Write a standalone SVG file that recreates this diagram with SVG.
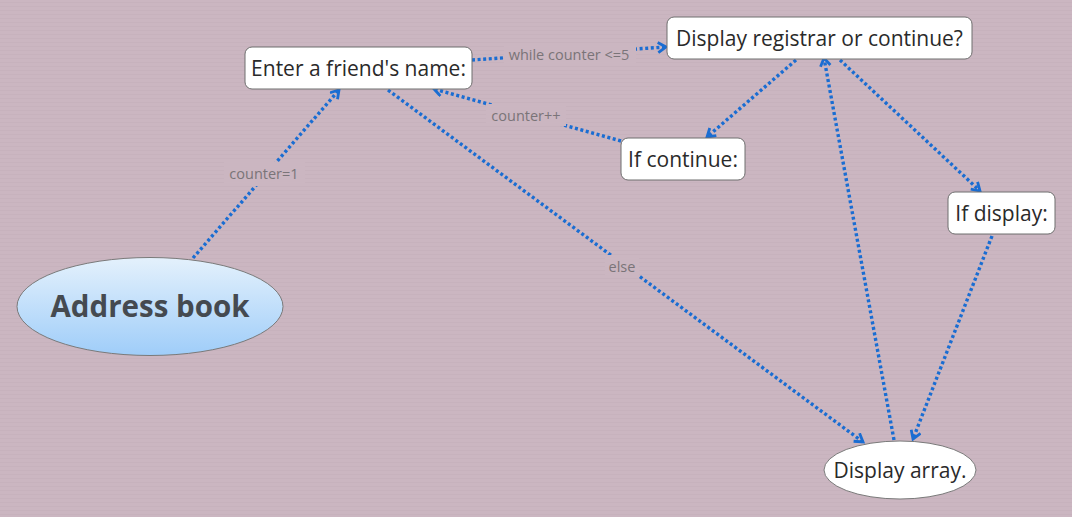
<svg xmlns="http://www.w3.org/2000/svg" width="1072" height="517" viewBox="0 0 1072 517">
<defs>
<linearGradient id="gAB" x1="0" y1="0" x2="0" y2="1">
<stop offset="0" stop-color="#e4f1fc"/>
<stop offset="1" stop-color="#9fcdf9"/>
</linearGradient>
<pattern id="stripes" width="4" height="4" patternUnits="userSpaceOnUse">
<rect width="4" height="4" fill="#cbb6c1"/>
<rect y="2" width="4" height="1" fill="#c7b2bd"/>
</pattern>
<marker id="arr" markerUnits="userSpaceOnUse" markerWidth="16" markerHeight="16" refX="11" refY="6" orient="auto">
<path d="M3,1 L11,6 L3,11" fill="none" stroke="#1a6dd2" stroke-width="2.8" stroke-linejoin="miter"/>
</marker>
</defs>
<style>
.node rect{fill:#ffffff;stroke:#6e6e6e;stroke-width:1}
.node ellipse{stroke:#7a7a7a;stroke-width:1}
.nt{font-family:"Open Sans","Noto Sans","DejaVu Sans",sans-serif;font-size:21px;fill:#2a2a2a;text-anchor:middle}
.conn line{stroke:#1a6dd2;stroke-width:3.4;stroke-dasharray:3 2.6;fill:none}
.lbl{font-family:"Open Sans","Noto Sans","DejaVu Sans",sans-serif;font-size:14.5px;fill:#7a7478;text-anchor:middle}
.lbg{fill:#cbb6c1}
</style>
<rect width="1072" height="517" fill="url(#stripes)"/>

<g id="connectors" class="conn">
<line x1="193" y1="258" x2="339" y2="90" marker-end="url(#arr)"/>
<line x1="472" y1="60" x2="666" y2="47" marker-end="url(#arr)"/>
<line x1="621" y1="141" x2="434" y2="89" marker-end="url(#arr)"/>
<line x1="388" y1="90" x2="863" y2="442" marker-end="url(#arr)"/>
<line x1="796" y1="60" x2="707" y2="137" marker-end="url(#arr)"/>
<line x1="840" y1="60" x2="980" y2="191" marker-end="url(#arr)"/>
<line x1="894" y1="440" x2="824" y2="58" marker-end="url(#arr)"/>
<line x1="992" y1="236" x2="913" y2="439" marker-end="url(#arr)"/>
<rect class="lbg" x="224" y="162" width="81" height="24"/>
<text class="lbl" x="264" y="179">counter=1</text>
<rect class="lbg" x="504" y="44" width="132" height="20"/>
<text class="lbl" x="569" y="60">while counter &lt;=5</text>
<rect class="lbg" x="486" y="104" width="80" height="22"/>
<text class="lbl" x="526" y="121">counter++</text>
<rect class="lbg" x="605" y="255" width="34" height="23"/>
<text class="lbl" x="622" y="272">else</text>
</g>

<g id="address-book" class="node">
<ellipse cx="150" cy="306.5" rx="133" ry="49" fill="url(#gAB)"/>
<text x="150" y="316.5" style="font-family:'Open Sans','Noto Sans',sans-serif;font-size:29.5px;font-weight:bold;fill:#454a50;text-anchor:middle">Address book</text>
</g>
<g id="enter-name" class="node">
<rect x="245" y="47" width="227" height="42" rx="7"/>
<text class="nt" x="358.5" y="75.5">Enter a friend's name:</text>
</g>
<g id="display-registrar" class="node">
<rect x="667" y="17" width="305" height="42" rx="7"/>
<text class="nt" x="819.5" y="45.5">Display registrar or continue?</text>
</g>
<g id="if-continue" class="node">
<rect x="621" y="138" width="124" height="42" rx="7"/>
<text class="nt" x="683" y="166.5">If continue:</text>
</g>
<g id="if-display" class="node">
<rect x="948" y="192" width="107" height="42" rx="7"/>
<text class="nt" x="1001.5" y="220.5">If display:</text>
</g>
<g id="display-array" class="node">
<ellipse cx="900" cy="470" rx="76" ry="29" fill="#ffffff"/>
<text class="nt" x="900" y="477.5">Display array.</text>
</g>
</svg>
